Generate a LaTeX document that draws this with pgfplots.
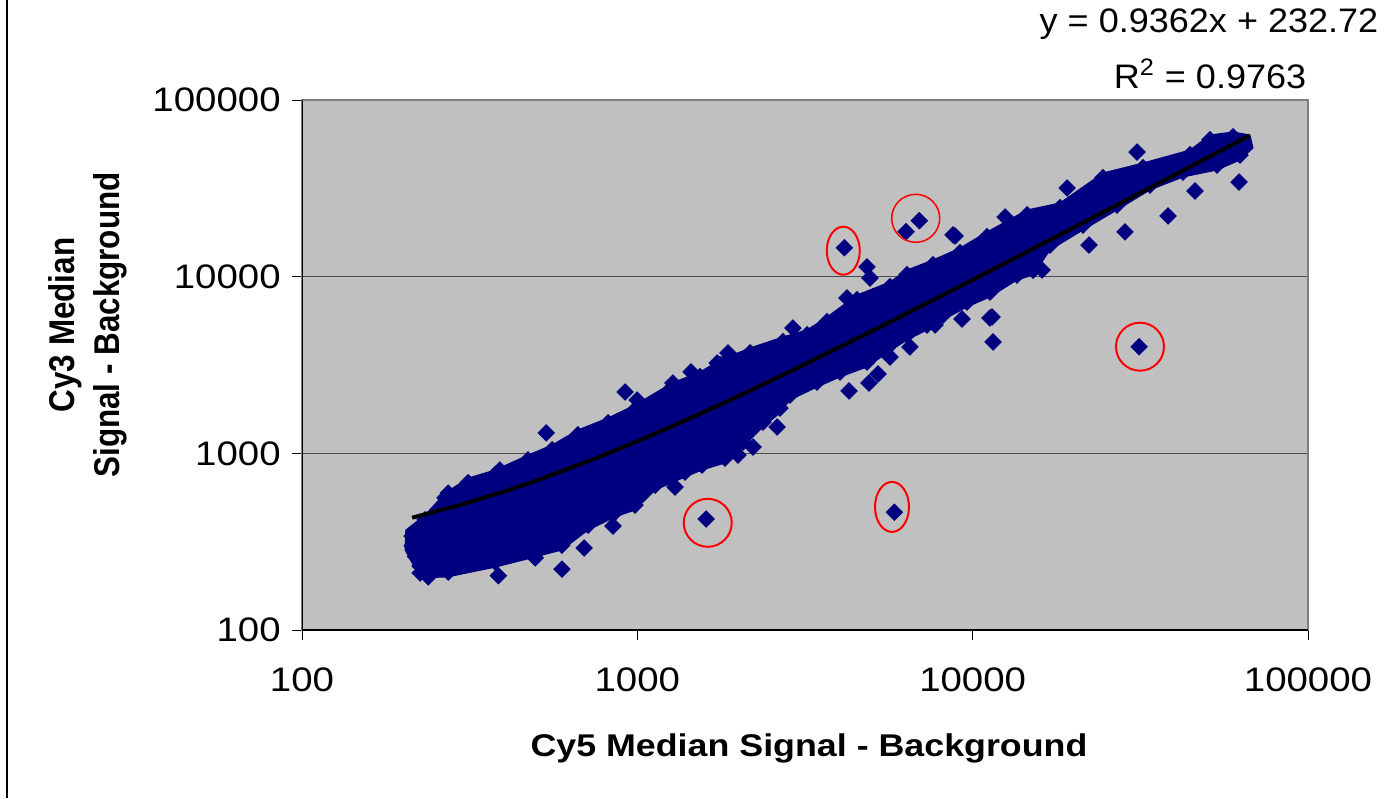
\documentclass[border=0pt]{standalone}
\usepackage{pgfplots}
\pgfplotsset{compat=1.18}
\usepackage{fontspec}
\setmainfont{Liberation Sans}
\definecolor{navy}{RGB}{0,0,128}
\definecolor{plotbg}{RGB}{192,192,192}
\begin{document}
\begin{tikzpicture}
\useasboundingbox (0,0) rectangle (696pt,-399pt);
\fill[white] (0,0) rectangle (696pt,-399pt);
\draw[black, line width=0.75pt] (3.5pt,0) -- (3.5pt,-399pt);
\node[anchor=base, font=\fontsize{17}{20}\selectfont, xscale=1.06, inner sep=0pt] at (604.5pt,-16pt) {y = 0.9362x + 232.72};
\node[anchor=base, font=\fontsize{17}{20}\selectfont, xscale=1.06, inner sep=0pt] at (605pt,-44pt) {R\textsuperscript{2} = 0.9763};
\begin{axis}[
  at={(151pt,-315pt)}, anchor=south west,
  scale only axis, width=503pt, height=265pt,
  xmode=log, ymode=log,
  xmin=100, xmax=100000, ymin=100, ymax=100000,
  xtick={100,1000,10000,100000}, ytick={100,1000,10000,100000},
  xticklabels={100,1000,10000,100000}, yticklabels={100,1000,10000,100000},
  xminorticks=false, yminorticks=false,
  tick align=outside, tick pos=left, major tick length=5pt,
  tick style={black, line width=0.5pt},
  ymajorgrids, major grid style={draw=black!70, line width=0.5pt},
  axis background/.style={fill=plotbg},
  axis line style={draw=gray, line width=1pt},
  clip marker paths=true,
  ticklabel style={font=\fontsize{17}{20}\selectfont},
  xticklabel style={xscale=1.13, yshift=-10.5pt},
  yticklabel style={xscale=1.13, xshift=-1.5pt},
  /pgf/number format/assume math mode=true,
  xlabel={Cy5 Median Signal - Background},
  xlabel style={at={(axis description cs:0.504,-0.2396)}, anchor=base, font=\bfseries\fontsize{15.7}{19}\selectfont, xscale=1.14},
  ylabel={Cy3 Median\\Signal - Background},
  ylabel style={at={(axis description cs:-0.2127,0.5755)}, anchor=center, align=center, font=\bfseries\fontsize{15.7}{19.7}\selectfont, yscale=1.14},
]
% dense core of the point cloud (outline of the overlapping markers)
\addplot[fill=navy, draw=navy, line width=0.5pt, forget plot] coordinates {
(203,284) (204,368) (233,448) (267,596) (313,725) (377,805) (472,978) (557,1115)
(665,1356) (818,1586) (984,1878) (1268,2501) (1538,2888) (1764,3376) (2168,3948)
(2718,4557) (3207,4992) (3678,5914) (4519,7877) (5668,9331) (6370,10910) (7617,12430)
(9167,14530) (11036,17910) (14525,23850) (18217,26130) (24470,38620) (32210,44000)
(44470,52120) (51020,63380) (59760,65900) (67150,63380) (68550,53500)
(62690,45750) (53530,40160) (42380,36660) (33790,30950) (26940,23850) (21330,18380)
(17010,14160) (15140,10220) (13560,9577) (11260,7675) (9619,6737) (8157,5686)
(7309,4992) (6370,4382) (5553,3699) (4840,3082) (4021,2706) (3435,2374) (2852,2004)
(2663,1693) (2370,1410) (2066,1086) (1826,882) (1559,805) (1388,735) (1130,620)
(984,478) (858,436) (713,368) (596,284) (496,259) (377,227) (273,200) (225,197) (203,284)
};
% spots along the edges of the cloud
\addplot[only marks, mark=square*, mark size=2.9pt, mark options={rotate=45, fill=navy, draw=navy}, forget plot] coordinates {
(233,421) (267,560) (313,682) (377,757) (472,919) (557,1048) (665,1275) (818,1491)
(984,1765) (1268,2351) (1538,2715) (1764,3173) (2168,3711) (2718,4284) (3207,4692)
(3678,5559) (4519,7404) (5668,8771) (6370,10255) (7617,11684) (9167,13658) (11036,16835)
(14525,22419) (18217,24562) (24470,36303) (32210,41360) (44470,48993) (51020,59577) (59760,61946)
(62690,48724) (53530,42770) (42380,39043) (33790,32962) (26940,25400) (21330,19575)
(17010,15080) (15140,10884) (13560,10200) (11260,8174) (9619,7175) (8157,6056)
(7309,5316) (6370,4667) (5553,3939) (4840,3282) (4021,2882) (3435,2528) (2852,2134)
(2663,1803) (2370,1502) (2066,1157) (1826,939) (1559,857) (1388,783) (1130,660)
(984,509) (858,464) (713,392) (596,302) (496,276) (377,242) (273,213) (225,210)
(213,300) (213,340) (218,260) (225,230) (240,215)
};
% individual spots
\addplot[only marks, mark=square*, mark size=2.9pt, mark options={rotate=45, fill=navy, draw=navy}] coordinates {
(535,1304) (919,2225) (998,2004) (1277,2501) (1446,2888) (1864,3699) (1996,978)
(846,388) (694,291) (596,221) (385,203) (496,256) (1295,645) (1559,882) (217,354)
(273,596) (313,680) (389,805) (238,200)
(4840,11350) (4941,9829) (4219,7574) (2912,5122) (8738,17220) (9294,5761) (11420,5914)
(11500,4269) (7722,5328) (6503,4000) (5668,3511) (5221,2813) (4907,2501) (4278,2254)
(2610,1410) (2213,1086) (16100,10910) (1889,3511) (1729,3247)
(30910,50780) (19120,31760) (22390,29760) (12490,21770) (8859,17000) (62270,34340)
(46030,30550) (38240,22060) (28460,17910) (22230,15110) (11260,5836)
(1603,425) (5842,464) (4144,14590) (6934,20750) (6329,17975) (31360,4017)
};
% linear trendline y = 0.9362x + 232.72
\addplot[black, line width=2pt] coordinates {
(213,432.1) (300,513.6) (400,607.2) (500,700.8) (750,934.9) (1000,1168.9)
(1500,1637.0) (2000,2105.1) (3000,3041.3) (5000,4913.7) (7500,7254.2) (10000,9594.7)
(15000,14275.7) (20000,18956.7) (30000,28318.7) (40000,37680.7) (50000,47042.7) (67000,62958.1)
};
\draw[red, line width=1pt] (axis cs:1622,404.5) ellipse [x radius=12pt, y radius=12pt];
\draw[red, line width=1pt] (axis cs:5747,497.5) ellipse [x radius=8.5pt, y radius=12.5pt];
\draw[red, line width=1pt] (axis cs:4113,14030) ellipse [x radius=8.25pt, y radius=12pt];
\draw[red, line width=0.75pt] (axis cs:6763,21400) ellipse [x radius=12pt, y radius=12pt];
\draw[red, line width=1pt] (axis cs:31550,4015) ellipse [x radius=12pt, y radius=12pt];
\draw[black, line width=0.75pt] (rel axis cs:0,1) -- (rel axis cs:0,0) -- (rel axis cs:1,0);
\end{axis}
\end{tikzpicture}
\end{document}
